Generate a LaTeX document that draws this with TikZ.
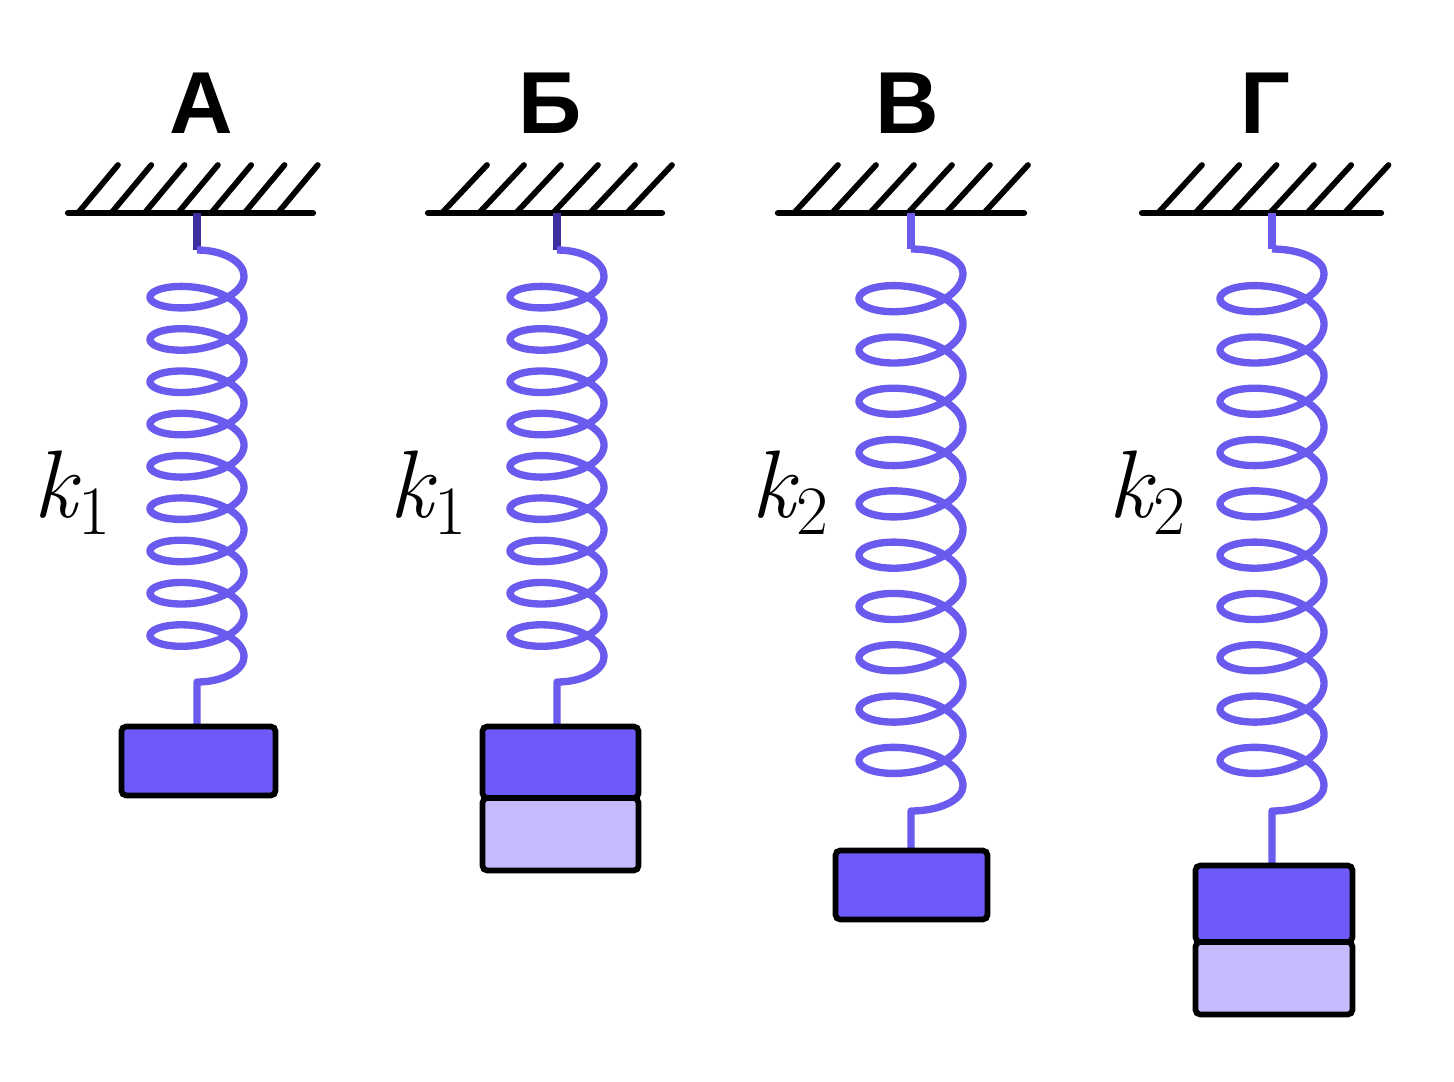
\documentclass[tikz,border=0pt]{standalone}
\usepackage{fontspec}
\newfontfamily\titlefont{Liberation Sans}
\definecolor{wirec}{HTML}{6A5BEE}
\definecolor{wiretop}{HTML}{3D2F9E}
\definecolor{massdark}{HTML}{6E5AF8}
\definecolor{masslight}{HTML}{C4BBFC}
\tikzset{
  wire/.style={line width=5.5pt, line join=round},
  hatchline/.style={line width=4.3pt, line cap=round, draw=black},
  groundline/.style={line width=4.7pt, line cap=round, draw=black},
  massbox/.style={draw=black, line width=4.3pt, rounded corners=3.5pt},
  titletext/.style={font=\titlefont\bfseries\fontsize{66}{66}\selectfont, anchor=base, inner sep=0pt},
  klabel/.style={font=\fontsize{72}{72}\selectfont, anchor=base, inner sep=0pt},
}
\newcommand\kwithsub[1]{{\itshape k}\kern1pt\raisebox{-13pt}{\fontsize{52}{52}\selectfont #1}}
\newcommand\drawspring[9]{%
  \pgfmathsetmacro\sprB{3*#5}%
  \pgfmathsetmacro\sprT{2*#6*pi}%
  \pgfmathsetmacro\sprE{#4+#5*\sprT}%
  \draw[wire, draw=#2] (#1,213) -- (#1,#3);
  \draw[wire, draw=wirec] (#1,#3) .. controls ({#1+0.552*#7},#3) and ({#1+#7},{#4-0.552*(#4-#3)}) .. ({#1+#7},#4)
    -- plot[domain=0:\sprT, samples=900, variable=\t] ({#1+#7*cos(\t r)},{#4+#5*\t+\sprB*sin(\t r)})
    .. controls ({#1+#7},{\sprE+0.552*(#8-\sprE)}) and ({#1+0.552*#7},#8) .. (#1,#8) -- (#1,#9);
}
\begin{document}
\begin{tikzpicture}[x=0.75pt,y=-0.75pt]
\useasboundingbox (0,0) rectangle (1454,1082);
\fill[white] (0,0) rectangle (1454,1082);

% titles
\node[titletext] (tA) at (201,133) {А};
\node[titletext] (tB) at (550,133) {Б};
\node[titletext] (tC) at (907,133) {В};
\node[titletext] (tD) at (1265,133) {Г};

% ceilings
\draw[groundline] (68,213) -- (313,213);
\foreach \i in {0,...,6} \draw[hatchline] ({78+33.3*\i},213) -- ({118+33.3*\i},165);
\draw[groundline] (428,213) -- (662,213);
\foreach \i in {0,...,5} \draw[hatchline] ({442+37*\i},213) -- ({487+37*\i},165);
\draw[groundline] (778,213) -- (1024,213);
\foreach \i in {0,...,5} \draw[hatchline] ({794+38*\i},213) -- ({838+38*\i},165);
\draw[groundline] (1142,213) -- (1381,213);
\foreach \i in {0,...,5} \draw[hatchline] ({1158+37.3*\i},213) -- ({1202+37.3*\i},165);

% springs
\drawspring{197}{wiretop}{250}{276}{6.732}{9}{47}{682}{726}
\drawspring{557}{wiretop}{250}{276}{6.732}{9}{47}{682}{726}
\drawspring{911}{wirec}{249}{273}{8.165}{10}{52}{811}{850}
\drawspring{1272}{wirec}{249}{273}{8.165}{10}{52}{811}{865}

% masses
\draw[massbox, fill=massdark] (121.5,726.5) rectangle (275.5,795.5);
\draw[massbox, fill=masslight] (482.5,798) rectangle (638.5,870.5);
\draw[massbox, fill=massdark] (482.5,726.5) rectangle (638.5,798);
\draw[massbox, fill=massdark] (835.5,850.5) rectangle (987.5,919.5);
\draw[massbox, fill=masslight] (1195.5,942) rectangle (1352.5,1014.5);
\draw[massbox, fill=massdark] (1195.5,865.5) rectangle (1352.5,942);

% stiffness labels
\node[klabel] (kA) at (72,517) {\kwithsub{1}};
\node[klabel] (kB) at (428,517) {\kwithsub{1}};
\node[klabel] (kC) at (790,517) {\kwithsub{2}};
\node[klabel] (kD) at (1147,517) {\kwithsub{2}};
\end{tikzpicture}
\end{document}
